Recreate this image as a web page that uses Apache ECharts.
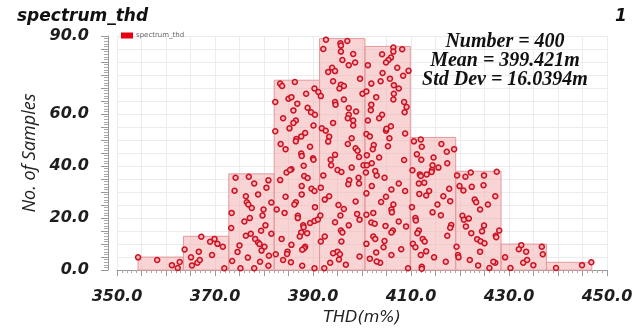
<!DOCTYPE html>
<html>
<head>
<meta charset="utf-8">
<script src="https://cdn.jsdelivr.net/npm/echarts@6/dist/echarts.min.js"></script>
<style>
  html, body { margin: 0; padding: 0; background: #ffffff; }
  #chart { width: 638px; height: 331px; }
</style>
</head>
<body>
<div id="chart"></div>
<script>
// ---- data ----
const binEdges = [354.3, 363.56, 372.82, 382.08, 391.34, 400.6, 409.86, 419.12, 428.38, 437.64, 446.9];
const binCounts = [5, 13, 37, 73, 89, 86, 51, 38, 10, 3];
const xTickLabels = [350, 370, 390, 410, 430, 450];
const yTickLabels = [0, 20, 40, 60, 90];
const statLines = ['Number = 400', 'Mean = 399.421m', 'Std Dev = 16.0394m'];

// sample dots [THD value, vertical position]
const dotsBin1 = [[354.3,4.9],[358.2,3.9],[361.2,1.9],[362.4,0.8],[362.8,3.1]];
const dotsBin2 = [[363.8,7.9],[365.1,4.9],[366.7,7.1],[365.3,1.8],[366.4,2.8],[366.9,3.9],[367.2,12.8],[369.0,10.9],[369.9,12.0],[369.4,5.8],[370.5,10.1],[371.6,9.0],[371.9,0.7]];
const dotsBin3 = [[374.2,35.5],[376.9,35.9],[378.0,33.3],[380.9,34.5],[380.5,31.7],[378.8,29.1],[376.3,28.4],[376.5,26.1],[376.8,25.2],[377.5,23.9],[373.4,22.0],[379.9,23.3],[379.7,21.0],[377.1,20.0],[376.0,18.7],[380.3,17.2],[373.3,16.2],[379.4,15.1],[376.3,13.2],[377.3,14.0],[378.2,12.0],[378.8,10.6],[379.1,10.0],[380.1,9.0],[379.5,7.5],[376.7,4.8],[381.0,5.5],[379.2,3.2],[380.9,1.7],[378.0,0.7],[375.2,0.7],[374.0,30.5],[381.5,26.0],[375.0,9.5],[373.5,3.5],[381.5,14.0],[374.6,7.0]];
const dotsBin4 = [[383.3,71.7],[383.7,70.8],[386.3,72.3],[382.3,64.6],[385.0,65.9],[385.6,66.5],[386.8,64.0],[388.6,67.8],[390.3,69.8],[391.1,68.5],[388.9,62.4],[389.6,60.7],[390.4,59.7],[386.0,61.4],[383.9,58.4],[386.5,57.5],[386.0,56.6],[385.2,54.5],[382.3,53.4],[388.4,52.7],[387.6,51.4],[386.6,50.4],[386.5,49.5],[390.1,55.6],[383.4,48.5],[384.4,46.5],[389.4,47.4],[387.6,44.8],[387.7,43.9],[390.0,43.0],[390.1,42.4],[385.6,38.8],[384.6,37.5],[385.3,38.5],[388.1,40.1],[383.3,34.6],[388.2,36.2],[388.9,35.4],[387.7,32.3],[389.7,31.3],[390.3,30.4],[384.4,28.2],[387.7,29.1],[386.5,26.1],[386.2,25.2],[382.6,23.3],[384.2,22.0],[386.9,20.9],[386.9,20.0],[390.4,24.2],[388.0,17.2],[388.1,16.5],[389.4,18.1],[390.3,18.9],[391.0,19.5],[387.6,14.5],[388.8,14.2],[383.6,12.0],[387.3,12.9],[385.6,9.7],[388.4,9.0],[388.2,8.4],[387.8,7.8],[384.8,7.1],[384.7,6.2],[383.9,3.9],[385.5,3.0],[387.8,1.7],[390.3,0.7],[382.4,6.1]];
const dotsBin5 = [[392.65,88.6],[395.6,87.2],[395.7,86.3],[397.0,88.1],[392.1,85.0],[395.7,84.0],[398.2,83.1],[396.0,80.8],[397.3,78.8],[398.6,79.8],[393.1,76.2],[393.9,77.8],[394.5,76.5],[399.6,73.6],[394.1,72.6],[395.7,71.3],[396.3,70.8],[395.4,69.8],[400.1,67.8],[391.6,66.9],[394.5,64.6],[394.6,63.6],[396.3,65.6],[397.3,62.3],[398.8,61.0],[397.3,59.7],[398.2,57.5],[398.2,55.6],[394.1,56.6],[397.1,58.4],[391.8,54.5],[392.6,53.6],[393.3,51.3],[397.9,50.7],[393.1,49.4],[397.1,48.5],[398.7,46.8],[399.1,45.9],[399.4,43.5],[394.5,44.3],[393.6,42.4],[393.7,40.3],[397.9,39.4],[400.3,40.3],[395.0,38.5],[395.8,37.7],[392.1,36.4],[397.4,34.5],[399.3,35.5],[397.2,33.0],[399.4,33.3],[391.6,31.7],[398.7,26.4],[395.2,25.0],[396.3,23.5],[393.3,28.4],[392.4,27.1],[395.6,21.0],[399.0,21.6],[391.5,21.0],[397.3,17.2],[399.5,19.4],[394.5,18.4],[395.7,15.2],[396.0,14.5],[392.4,12.9],[391.6,11.0],[395.0,7.1],[395.5,6.1],[395.8,11.0],[395.3,4.1],[394.1,6.5],[399.5,5.2],[393.5,2.8],[396.7,2.1],[392.3,0.7]];
const dotsBin6 = [[406.4,85.6],[406.4,84.0],[408.2,84.9],[404.1,83.0],[405.9,81.7],[405.4,80.8],[404.9,79.8],[401.2,78.8],[407.2,77.8],[404.2,75.8],[408.4,74.7],[409.5,76.6],[405.7,73.6],[403.8,72.6],[401.9,71.7],[406.5,71.1],[407.5,69.8],[400.9,68.7],[406.5,67.8],[406.4,65.6],[402.9,66.5],[408.6,64.6],[401.9,63.6],[401.8,61.5],[409.1,62.7],[408.7,60.7],[404.1,59.7],[403.5,58.4],[401.2,57.5],[405.9,55.3],[404.9,53.6],[405.0,54.3],[400.9,52.3],[408.8,52.5],[401.6,51.4],[405.6,50.7],[405.3,47.6],[402.4,48.1],[402.2,46.5],[401.0,44.2],[403.5,43.3],[408.6,42.3],[402.0,41.1],[401.0,40.3],[400.8,37.5],[403.0,36.4],[402.7,38.1],[404.6,35.5],[402.0,32.3],[407.5,33.3],[406.0,31.0],[408.8,30.4],[400.9,29.5],[404.9,28.2],[403.9,26.2],[406.4,25.2],[406.0,23.3],[406.1,22.2],[402.3,22.0],[400.9,21.3],[407.5,18.7],[401.9,18.3],[402.6,17.8],[404.8,17.0],[409.0,16.8],[406.3,15.2],[406.0,14.5],[402.3,12.9],[402.7,12.0],[404.6,11.2],[400.9,10.1],[404.4,8.8],[408.0,8.0],[402.9,6.8],[406.0,5.8],[401.6,4.4],[403.7,2.8],[403.0,3.3],[409.4,0.7]];
const dotsBin7 = [[410.6,49.5],[412.0,50.2],[416.2,48.5],[412.2,47.4],[417.3,45.5],[418.8,46.5],[411.2,44.5],[414.6,43.3],[412.1,42.4],[414.4,40.3],[415.6,39.4],[417.4,41.1],[410.3,38.4],[411.8,36.8],[412.0,36.2],[413.2,36.8],[414.3,38.5],[414.2,37.7],[411.6,33.3],[412.7,33.6],[413.7,30.4],[417.8,31.3],[411.7,29.3],[413.1,28.7],[416.6,28.4],[415.4,25.2],[410.2,24.2],[418.0,26.5],[414.4,22.2],[416.1,21.1],[410.9,20.0],[411.0,19.1],[418.2,17.3],[418.0,16.3],[411.6,15.2],[411.3,14.2],[417.4,13.2],[412.4,12.0],[412.8,11.0],[410.4,10.1],[410.9,8.8],[413.1,7.2],[412.0,5.8],[414.7,4.9],[417.1,3.2],[412.2,1.3],[412.2,0.5]];
const dotsBin8 = [[419.4,36.4],[421.1,35.9],[422.2,37.5],[424.9,36.4],[427.5,37.8],[419.9,32.3],[420.7,30.6],[422.4,32.0],[424.8,32.6],[423.0,27.1],[423.3,26.1],[424.1,23.3],[425.7,25.2],[427.2,28.4],[420.5,20.9],[420.8,19.4],[421.8,19.8],[421.2,16.8],[422.3,14.2],[424.5,14.9],[424.9,17.1],[423.5,11.9],[424.2,11.1],[425.0,10.3],[427.3,13.2],[419.3,9.0],[419.6,5.8],[419.7,4.9],[424.1,7.1],[422.0,3.9],[423.7,1.8],[426.0,0.8],[427.2,2.8],[428.0,15.2],[427.4,12.6],[426.8,3.2]];
const dotsBin9 = [[432.5,9.6],[432.0,8.0],[433.5,7.1],[436.7,9.0],[436.9,6.1],[429.2,4.9],[432.9,2.8],[433.7,3.9],[434.97,1.9],[430.3,0.8]];
const dotsBin10 = [[439.6,0.8],[444.9,1.9],[446.8,3.0]];

// ---- build ----
const histData = binCounts.map((c, i) => [binEdges[i], binEdges[i + 1], c]);
const allDots = [].concat(dotsBin1, dotsBin2, dotsBin3, dotsBin4, dotsBin5,
                          dotsBin6, dotsBin7, dotsBin8, dotsBin9, dotsBin10);

const tickFont = { fontFamily: 'DejaVu Sans', fontWeight: 'bold', fontStyle: 'italic', fontSize: 16, color: '#1e1e1e' };

const chart = echarts.init(document.getElementById('chart'), null, { renderer: 'canvas' });
chart.setOption({
  animation: false,
  backgroundColor: '#ffffff',
  grid: { left: 117, right: 31, top: 36, bottom: 60 },
  title: [
    { text: 'spectrum_thd', left: 12, top: 3,
      textStyle: { fontFamily: 'DejaVu Sans', fontWeight: 'bold', fontStyle: 'italic', fontSize: 17, color: '#111' } },
    { text: '1', left: 610, top: 3,
      textStyle: { fontFamily: 'DejaVu Sans', fontWeight: 'bold', fontStyle: 'italic', fontSize: 17, color: '#111' } }
  ],
  legend: {
    left: 116, top: 27, itemWidth: 12, itemHeight: 6, itemGap: 4,
    icon: 'rect',
    textStyle: { fontSize: 7, color: '#666', fontFamily: 'DejaVu Sans', padding: [0, 0, 0, -2] },
    data: [{ name: 'spectrum_thd', itemStyle: { color: '#e60012', borderWidth: 0 } }]
  },
  xAxis: {
    type: 'value', min: 350, max: 450, interval: 5, offset: 4,
    name: 'THD(m%)', nameLocation: 'middle', nameGap: 34,
    nameTextStyle: { fontFamily: 'DejaVu Sans', fontStyle: 'italic', fontSize: 16, color: '#222' },
    axisLine: { show: true, lineStyle: { color: '#9a9a9a', width: 1 } },
    axisTick: { show: true, length: 6, lineStyle: { color: '#9a9a9a' } },
    minorTick: { show: true, splitNumber: 5, length: 3, lineStyle: { color: '#aaaaaa' } },
    axisLabel: Object.assign({ customValues: xTickLabels, margin: 15,
      formatter: v => Number(v).toFixed(1) }, tickFont),
    splitLine: { show: true, lineStyle: { color: '#ececec', width: 1 } }
  },
  yAxis: {
    type: 'value', min: 0, max: 90, interval: 5, offset: 9,
    name: 'No. of Samples', nameLocation: 'middle', nameGap: 64,
    nameTextStyle: { fontFamily: 'Open Sans', fontStyle: 'italic', fontSize: 18, color: '#222' },
    axisLine: { show: true, lineStyle: { color: '#9a9a9a', width: 1 } },
    axisTick: { show: true, length: 7, lineStyle: { color: '#9a9a9a' } },
    minorTick: { show: true, splitNumber: 5, length: 4, lineStyle: { color: '#aaaaaa' } },
    axisLabel: Object.assign({ customValues: yTickLabels, margin: 19,
      formatter: v => Number(v).toFixed(1) }, tickFont),
    splitLine: { show: true, lineStyle: { color: '#ececec', width: 1 } }
  },
  graphic: statLines.map((t, i) => ({
    type: 'text', x: 505, y: 32 + i * 19, z: 100,
    style: { text: t, fill: '#111', textAlign: 'center',
      font: 'italic bold 20px "Liberation Serif"' }
  })),
  series: [
    {
      name: 'spectrum_thd', type: 'custom', z: 2,
      data: histData,
      encode: { x: [0, 1], y: 2 },
      renderItem: (params, api) => {
        const p0 = api.coord([api.value(0), api.value(2)]);
        const p1 = api.coord([api.value(1), 0]);
        return {
          type: 'rect',
          shape: { x: p0[0], y: p0[1], width: p1[0] - p0[0], height: p1[1] - p0[1] },
          style: { fill: 'rgba(242,170,172,0.5)', stroke: '#e39a9d', lineWidth: 1 }
        };
      }
    },
    {
      name: 'samples', type: 'scatter', z: 3,
      data: allDots, symbol: 'circle', symbolSize: 5,
      itemStyle: { color: '#f4b9bd', borderColor: '#cc1222', borderWidth: 1.5, opacity: 1 }
    }
  ]
});
</script>
</body>
</html>
